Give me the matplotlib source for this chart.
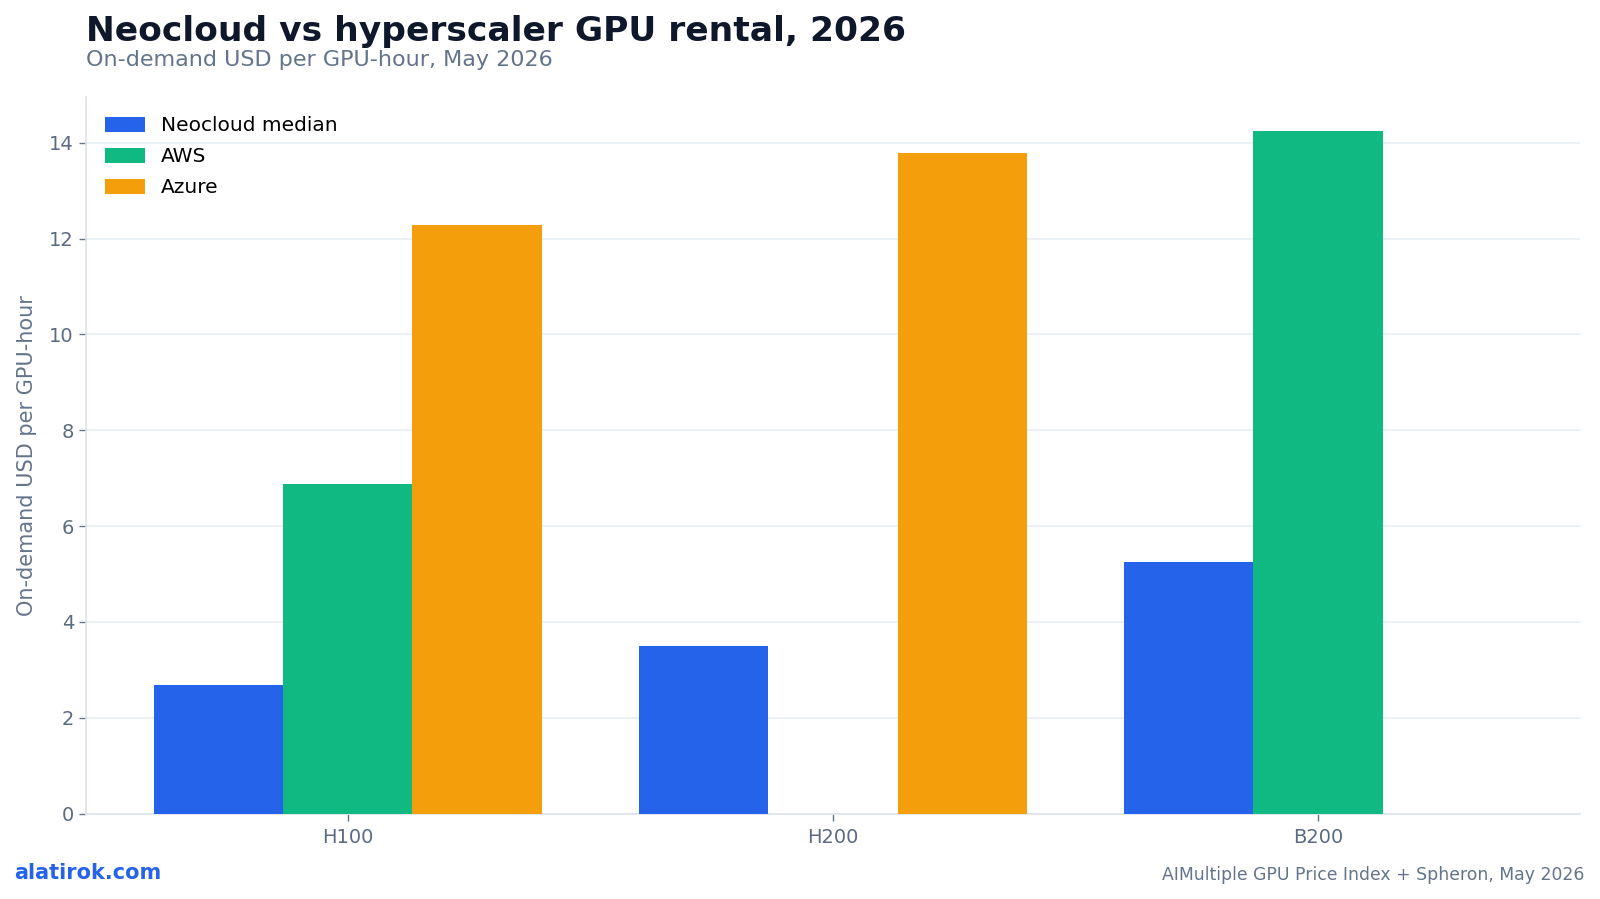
import matplotlib
matplotlib.use("Agg")
import matplotlib.pyplot as plt
import numpy as np

categories = ["H100", "H200", "B200"]
neocloud = [2.69, 3.50, 5.24]
aws = [6.87, np.nan, 14.24]
azure = [12.29, 13.78, np.nan]
series_names = ["Neocloud median", "AWS", "Azure"]
colors = ["#2563eb", "#10b981", "#f59e0b"]

plt.rcParams['font.family'] = ['DejaVu Sans']

fig = plt.figure(figsize=(16, 8.99), dpi=100)
ax = fig.add_axes([0.0536, 0.095, 0.9339, 0.797])

x = np.arange(len(categories))
w = 0.8 / 3
for i, (vals, name, c) in enumerate(zip([neocloud, aws, azure], series_names, colors)):
    ax.bar(x + (i - 1) * w, vals, width=w, color=c, label=name, zorder=3)

lo, hi = x[0] - 1.5 * w, x[-1] + 1.5 * w
pad = 0.05 * (hi - lo)
ax.set_xlim(lo - pad, hi + pad)

ax.set_xticks(x)
ax.set_xticklabels(categories)
ax.tick_params(axis='both', labelsize=14, colors='#64748b', length=5, width=1)
ax.tick_params(axis='both', labelcolor='#5b6b82')
ax.tick_params(axis='x', pad=5.5)
ax.set_ylabel("On-demand USD per GPU-hour", fontsize=15, color='#64748b', labelpad=9)
ax.yaxis.grid(True, color='#e8edf3', linewidth=1.2, zorder=0)
ax.set_axisbelow(True)
for s in ['top', 'right']:
    ax.spines[s].set_visible(False)
for s in ['left', 'bottom']:
    ax.spines[s].set_color('#dde3ec')
    ax.spines[s].set_linewidth(1.2)

ax.legend(loc='upper left', frameon=False, fontsize=14.5, handlelength=2.0,
          handleheight=0.8, labelspacing=0.6, borderaxespad=0.55)

fig.text(0.0535, 0.954, "Neocloud vs hyperscaler GPU rental, 2026", fontsize=24.8,
         fontweight='bold', color='#0f172a', ha='left', va='baseline')
fig.text(0.0535, 0.927, "On-demand USD per GPU-hour, May 2026", fontsize=16,
         color='#64748b', ha='left', va='baseline')
fig.text(0.009, 0.022, "alatirok.com", fontsize=15, fontweight='bold',
         color='#2563eb', ha='left', va='baseline')
fig.text(0.99, 0.021, "AIMultiple GPU Price Index + Spheron, May 2026", fontsize=12.4,
         color='#64748b', ha='right', va='baseline')

fig.savefig("out.png", dpi=100, facecolor='white')
